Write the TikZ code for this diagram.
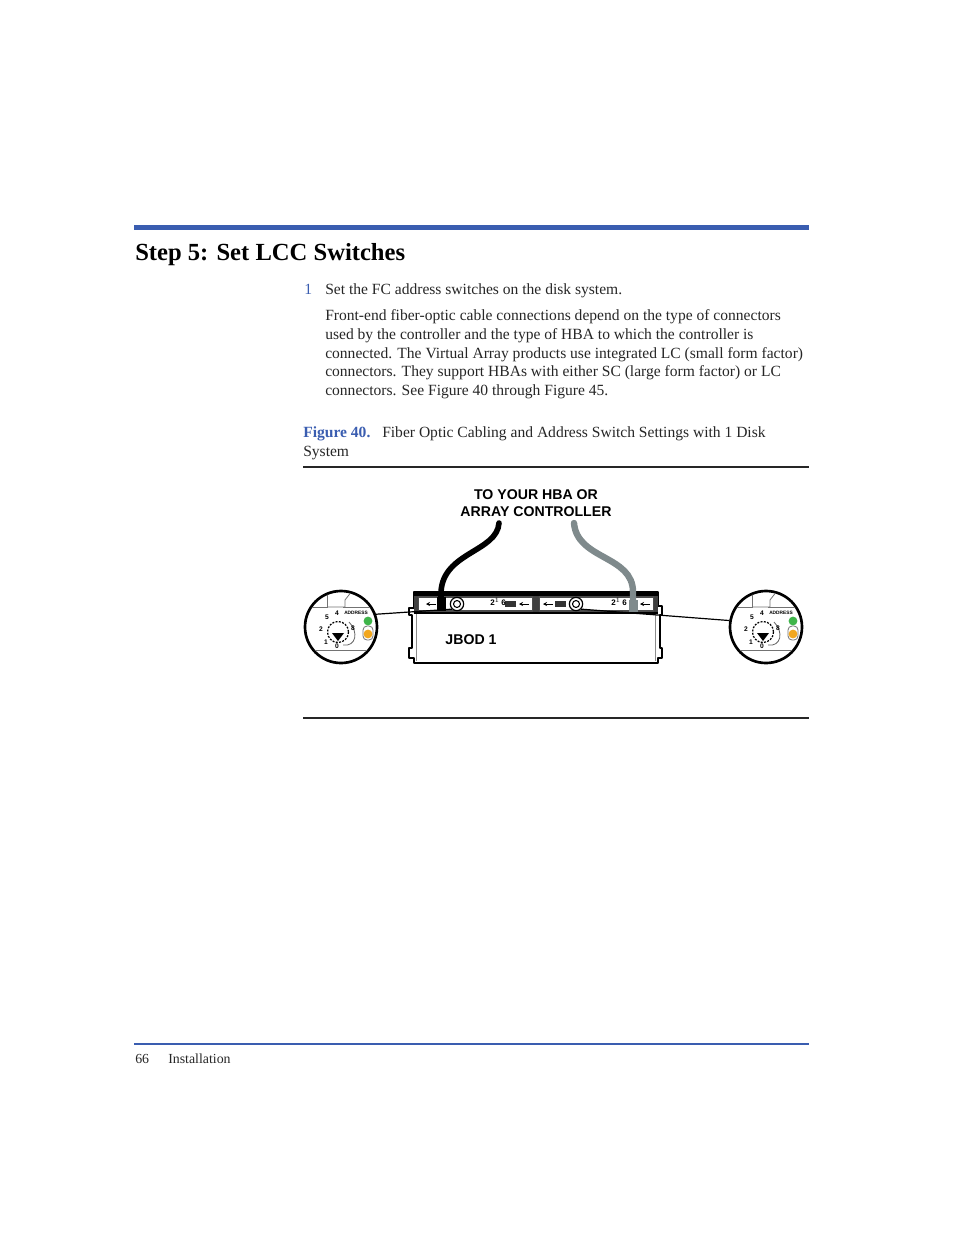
\documentclass[tikz,border=0pt]{standalone}
\usepackage{fontspec}
\setmainfont{Liberation Serif}
\setsansfont{Liberation Sans}
\usetikzlibrary{positioning}
\usetikzlibrary{calc}
\usetikzlibrary{arrows.meta}
\definecolor{rulecolor}{HTML}{3A5DB0}
\definecolor{cablegray}{HTML}{7F8A8C}
\definecolor{ledgreen}{HTML}{3FB54A}
\definecolor{ledamber}{HTML}{F2A71E}
\begin{document}
\begin{tikzpicture}[x=0.75pt,y=-0.75pt,
			bodytext/.style={anchor=base west,inner sep=0pt,font=\fontsize{11.67}{13}\selectfont,text=black!85},
			figlabel/.style={inner sep=0pt,align=center,font=\sffamily\bfseries\fontsize{10.6}{12}\selectfont},
			lens/.style={circle,draw,line width=2pt,minimum size=54pt,inner sep=0pt,fill=white},
			knob/.style={circle,draw,line width=0.9pt,minimum size=10pt,inner sep=0pt,fill=white},
			panel/.style={draw,black!70,line width=0.8pt,fill=white,minimum width=85.5pt,minimum height=10.5pt,inner sep=0pt},
			tinytext/.style={inner sep=0pt,font=\sffamily\bfseries\fontsize{3.6}{4}\selectfont},
			digit/.style={inner sep=0pt,font=\sffamily\bfseries\fontsize{5}{5}\selectfont},
			leader/.style={draw,line width=0.9pt},
			cable/.style={line width=4.2pt,line cap=round}]
			\useasboundingbox (0,0) rectangle (954,1235);
			
			% page text
			\fill[rulecolor] (134,225) rectangle (809,230);
			\node[anchor=base west,inner sep=0pt,font=\bfseries\fontsize{18.45}{20}\selectfont] (title) at (135,260) {Step 5: Set LCC Switches};
			\node[bodytext,text=rulecolor] (num) at (304,294) {1};
			\node[bodytext] (p0) at (325,294) {Set the FC address switches on the disk system.};
			\node[bodytext] (p1) at (325,320) {Front-end fiber-optic cable connections depend on the type of connectors};
			\node[bodytext] (p2) at (325,339) {used by the controller and the type of HBA to which the controller is};
			\node[bodytext] (p3) at (325,358) {connected. The Virtual Array products use integrated LC (small form factor)};
			\node[bodytext] (p4) at (325,376) {connectors. They support HBAs with either SC (large form factor) or LC};
			\node[bodytext] (p5) at (325,395) {connectors. See Figure 40 through Figure 45.};
			\node[bodytext,text=rulecolor,font=\bfseries\fontsize{11.67}{13}\selectfont] (figno) at (303,437) {Figure 40.};
			\node[bodytext] (cap1) at (382,437) {Fiber Optic Cabling and Address Switch Settings with 1 Disk};
			\node[bodytext] (cap2) at (303,456) {System};
			\draw[line width=1.5pt,black!85] (303,467) -- (809,467);
			\draw[line width=1.5pt,black!85] (303,718) -- (809,718);
			\fill[rulecolor] (134,1043) rectangle (809,1045);
			\node[bodytext,font=\fontsize{10.4}{12}\selectfont] (pageno) at (135,1063) {66};
			\node[bodytext,font=\fontsize{10.4}{12}\selectfont] (footer) at (168,1063) {Installation};
			
			% labels
			\node[figlabel] (hba) at (536,503) {TO YOUR HBA OR\\[1.2pt]ARRAY CONTROLLER};
			\node[figlabel] (jbod) at (471,640) {JBOD 1};
			
			% enclosure
			\draw[line width=2pt,line join=round] (414,592) -- (658,592) -- (658,606) -- (662,606) -- (662,615) -- (660,615) -- (660,648)
				-- (662,648) -- (662,658) -- (658,658) -- (658,663) -- (414,663) -- (414,658) -- (409,658) -- (409,648) -- (412,648)
				-- (412,615) -- (409,615) -- (409,608) -- (414,608) -- cycle;
			\draw[black!45,line width=0.6pt] (416,614) -- (416,661);
			\draw[black!45,line width=0.6pt] (655,614) -- (655,661);
			\fill (414,592) rectangle (658,596);
			\fill[black!75] (414,596) rectangle (658,612);
			\draw[line width=1.5pt] (414,612.5) -- (658,612.5);
			\node[panel] (panelL) at (475.5,604) {};
			\node[panel] (panelR) at (596.5,604) {};
			
			% panel marks
			\node[inner sep=0pt] (arrL1) at (431,604) {};
			\node[inner sep=0pt] (arrL2) at (524,604) {};
			\node[inner sep=0pt] (arrR1) at (548,604) {};
			\node[inner sep=0pt] (arrR2) at (645,604) {};
			\foreach \a in {arrL1,arrL2,arrR1,arrR2}
				\draw[-{Stealth[length=3pt,width=3pt]},line width=0.6pt] ($(\a)+(5,0)$) -- ($(\a)+(-5,0)$);
			\fill[black!80] (505,601) rectangle (516,607);
			\fill[black!80] (555,601) rectangle (566,607);
			\node[tinytext,font=\sffamily\bfseries\fontsize{6}{6}\selectfont] (markL) at (498,602) {2$^{1}$\,6};
			\node[tinytext,font=\sffamily\bfseries\fontsize{6}{6}\selectfont] (markR) at (619,602) {2$^{1}$\,6};
			
			% lenses
			\node[lens] (lensL) at (341,627) {};
			\node[lens] (lensR) at (766,627) {};
			\foreach \l in {lensL,lensR} {
				\begin{scope}[shift={(\l)}]
					\clip (0,0) circle (35);
					\draw[black!55,line width=0.6pt] (-36,-20) -- (-14,-20) -- (-14,-36);
					\draw[black!55,line width=0.6pt] (-14,-20) -- (4,-20) -- (4,-27) -- (11,-36);
					\draw[black!55,line width=0.6pt] (-36,23) -- (36,23);
					\draw[black!55,line width=0.6pt] (2,-20) -- (36,-20);
				\end{scope}
				\draw[line width=0.6pt,black!55,fill=white,rounded corners=3pt] ($(\l)+(22,-1)$) rectangle ($(\l)+(32,13)$);
				\fill[ledgreen] ($(\l)+(27,-6)$) circle (4.4);
				\fill[ledamber] ($(\l)+(27,7)$) circle (4.4);
				\draw[line width=0.9pt,dash pattern=on 1.5pt off 1pt] ($(\l)+(-3,5)$) circle (10.5);
				\draw[black!60,line width=0.6pt] ($(\l)+(8,-5)$) .. controls ($(\l)+(18,5)$) and ($(\l)+(15,20)$) .. ($(\l)+(2,18)$);
				\fill ($(\l)+(-9,6)$) -- ($(\l)+(3,6)$) -- ($(\l)+(-3,14)$) -- cycle;
				\node[digit] at ($(\l)+(-14,-10)$) {5};
				\node[digit] at ($(\l)+(-4,-14)$) {4};
				\node[digit] at ($(\l)+(-20,2)$) {2};
				\node[digit] at ($(\l)+(-15,15)$) {1};
				\node[digit] at ($(\l)+(-4,19)$) {0};
				\node[digit] at ($(\l)+(12,1)$) {8};
				\node[tinytext] at ($(\l)+(15,-14)$) {ADDRESS};
			}
			
			% knobs and leaders
			\node[knob] (knobL) at (457,604) {};
			\node[knob] (knobR) at (576,604) {};
			\foreach \k in {knobL,knobR}
				\draw[line width=0.8pt] (\k) circle (3.5);
			\path[leader] (lensL.20) -- (knobL.south west);
			\path[leader] (lensR.170) -- (knobR.south east);
			
			% cables
			\coordinate (cableA) at (499,523);
			\coordinate (cableB) at (574,523);
			\coordinate (portA) at (441,606);
			\coordinate (portB) at (633,608);
			\fill (437,597) rectangle (446,611);
			\fill[cablegray] (629,600) rectangle (638,612);
			\draw[cable,black] (cableA) .. controls (497,552) and (443,552) .. (441,592) -- (portA);
			\draw[cable,cablegray,line width=4.8pt] (cableB) .. controls (577,560) and (633,555) .. (633,592) -- (portB);
			\end{tikzpicture}
\end{document}
